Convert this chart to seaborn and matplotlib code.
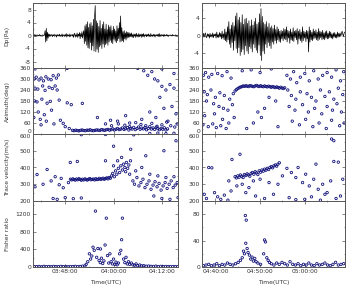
import numpy as np
import pandas as pd
import matplotlib
matplotlib.use("Agg")
import matplotlib.pyplot as plt
import seaborn as sns
from matplotlib.ticker import AutoMinorLocator

# ---------------- data (time in minutes after 00:00 UTC) ----------------
# Left event: 03:40 - 04:16 ; Right event: 04:37 - 05:09
L_T0, L_DT = 220.0, 0.15
R_T0, R_DT = 277.0, 0.15

wave_left = [
    0.1,-0.2,0.3,-0.1,0.2,-0.3,0.1,0.2,-0.2,0.1,-0.1,0.3,-0.2,0.1,0.0,-0.3,0.2,0.1,-0.1,0.2,
    1.5,-2.0,2.2,-1.6,1.0,-0.8,0.5,
    -0.3,0.4,-0.2,0.1,0.3,-0.4,0.2,-0.1,0.4,-0.3,0.1,0.2,-0.5,0.3,-0.1,0.2,-0.2,0.4,-0.3,0.1,-0.2,0.5,-0.4,0.2,
    0.1,-0.3,0.3,-0.2,0.6,-0.5,0.3,-0.1,0.2,-0.4,0.5,-0.3,0.1,0.2,-0.2,0.4,-0.6,0.3,0.7,-0.5,0.2,-0.3,0.8,-0.6,
    0.4,-0.2,0.9,-1.0,0.6,-0.4,1.2,-0.8,0.5,
    1.5,-2.5,3.0,-1.8,3.5,-3.0,4.2,-3.8,2.5,-4.0,3.6,-2.2,4.0,-4.5,3.0,-3.2,5.0,-4.8,6.0,9.2,-5.0,4.5,-4.2,3.8,
    -5.2,2.8,-3.5,4.6,-3.0,2.2,-4.0,3.4,-2.6,4.2,-3.6,2.0,-2.8,3.5,-2.4,1.8,-3.0,3.2,-2.0,2.6,-1.5,3.0,-2.2,1.6,
    -2.5,2.8,-1.2,2.0,-1.8,1.4,-2.2,3.0,-1.6,2.2,-1.0,4.0,-2.0,6.0,-1.8,2.4,-1.6,1.2,-2.0,1.5,-1.0,0.8,-1.4,1.2,
    -0.8,1.0,-0.6,0.9,-0.5,
    0.6,-0.4,0.8,-0.5,0.3,-0.7,0.5,-0.2,0.4,-0.6,0.7,-0.3,0.2,-0.5,0.6,-0.4,0.3,-0.2,0.5,-0.6,0.4,-0.3,0.6,-0.5,
    0.2,-0.1,0.4,-0.4,0.3,-0.2,0.5,-0.3,0.2,-0.4,0.6,-0.2,0.1,-0.3,0.4,-0.2,0.3,-0.5,0.2,-0.1,0.3,-0.2,0.4,-0.3,
    0.6,-0.4,0.2,-0.2,0.3,-0.1,0.2,-0.3,0.4,-0.2,0.1,-0.1,0.3,-0.2,0.2,-0.3,0.1,0.0,0.2,-0.1,0.1,-0.2,0.3,-0.1,
    0.1,0.0,-0.1,0.2,-0.1,0.1,0.0,0.1,
]
wave_right = [
    0.3,-0.2,0.5,-0.4,0.2,0.6,-0.3,-0.5,0.4,-0.2,0.3,-0.6,0.5,-0.3,0.2,-0.4,0.6,-0.5,0.3,-0.1,0.4,-0.6,0.8,-0.4,
    0.2,-0.5,0.7,-0.3,0.5,-0.8,1.0,-0.6,0.4,-1.0,1.5,-1.2,0.8,-1.5,2.0,-1.0,
    3.2,-2.0,1.5,-2.8,2.4,-1.6,3.0,-3.4,2.2,-1.2,4.5,-3.0,5.2,-4.0,3.6,-2.8,4.2,-4.6,3.0,-3.8,4.8,-3.2,2.6,-4.4,
    3.8,-2.4,4.0,-3.6,2.8,-4.2,3.4,-2.6,2.2,-3.0,3.6,-3.8,2.4,-2.0,3.2,-2.8,4.0,-3.4,2.6,-4.0,3.0,-2.2,5.0,-4.6,
    6.2,-5.8,4.4,-3.6,3.0,-4.2,2.6,-2.0,3.2,-2.8,2.0,-1.6,2.8,-2.4,1.8,-3.0,2.2,-1.5,1.6,-2.0,2.4,-1.2,1.4,-1.8,
    2.0,-1.0,1.5,-1.4,1.0,-1.6,1.2,-0.8,
    1.0,-1.2,1.6,-0.8,1.4,-1.0,2.0,-1.5,1.2,-0.6,1.0,-1.8,1.5,-1.0,0.8,-1.2,1.8,-1.4,1.0,-0.5,1.2,-1.0,1.6,-2.0,
    1.0,-0.8,1.4,-1.2,0.8,-1.6,2.0,-1.2,1.0,-0.6,0.8,-1.4,1.2,-0.8,1.0,-3.8,2.0,-1.5,1.2,-1.0,0.8,-1.2,1.5,-0.8,
    1.0,-0.6,1.3,-1.0,0.8,-1.2,1.6,-0.9,1.0,-0.5,0.8,-1.0,1.2,-0.8,0.6,-1.0,0.9,-0.6,1.1,-0.8,0.5,-0.7,1.0,-0.5,
    0.8,-0.6,0.4,-0.8,0.6,-0.4,0.7,-0.5,0.3,-0.6,0.8,-0.4,0.5,-0.3,0.6,-0.2,0.4,1.0,0.3,-0.2,0.5,0.8,
]

# Azimuth (deg), left event
az_left_t = [220.3,220.8,221.5,222.0,222.6,223.2,223.8,224.5,225.0,225.8,226.3,
             220.5,221.2,222.4,223.0,224.0,224.8,225.5,226.0,
             220.4,221.0,222.2,223.5,224.3,226.5,228.5,229.5,
             221.3,222.8,224.6,220.2,221.8,223.3,225.2,222.0,226.8,228.0,229.0,227.5,
             220.5,228.5,232.25,239.25,
             229.8,230.2,230.6,231.0,231.4,231.8,232.2,232.6,233.0,233.4,233.8,234.2,234.6,235.0,235.4,235.8,
             236.2,236.6,237.0,237.4,237.8,238.2,238.6,239.0,239.4,239.8,240.2,240.6,241.0,241.4,241.8,242.2,
             242.6,243.0,243.4,243.8,244.2,244.6,245.0,245.4,245.8,246.2,246.6,247.0,247.4,247.8,248.2,248.6,
             249.0,249.4,249.8,250.2,250.6,251.0,251.4,251.8,252.2,252.6,253.0,253.4,
             239.5,241.2,242.8,244.0,245.5,246.8,248.0,249.5,250.8,252.0,253.2,254.2,255.2,255.8,
             248.5,249.5,250.2,251.0,252.0,253.0,254.0,255.0,249.0,251.5,252.5,254.5,255.5,250.5,253.5,247.0,
             244.0,243.0,241.0,238.0,236.0,246.0,247.5,252.0,255.0,249.0,251.0,253.0,255.0]
az_left_v = [300,310,295,305,290,312,300,296,318,305,322,
             250,245,262,238,255,248,262,240,
             180,175,190,168,178,185,170,160,
             120,105,130,90,80,70,55,50,75,40,30,58,
             355,358,167,75,
             20,18,21,19,17,20,22,19,18,21,20,23,19,18,20,22,
             21,19,24,22,20,23,25,21,24,28,22,26,30,24,27,33,
             25,29,35,22,31,27,36,24,30,38,26,32,28,35,23,30,
             40,27,33,25,37,29,24,31,26,34,22,28,
             45,55,48,40,62,52,45,58,42,50,65,45,38,55,
             320,340,300,290,260,240,270,250,120,200,140,150,110,90,70,80,
             60,100,70,55,90,358,345,355,330,3,5,2,4]

# Azimuth (deg), right event
az_right_t = [284.4,284.7,285.0,285.3,285.6,285.9,286.2,286.5,286.8,287.1,287.4,287.7,288.0,288.3,288.6,
              288.9,289.2,289.5,289.8,290.1,290.4,290.7,291.0,291.3,291.6,291.9,292.2,292.5,292.8,293.1,
              293.4,293.7,294.0,294.3,294.6,294.9,295.2,295.5,
              277.3,277.8,278.5,279.2,280.5,281.5,282.6,283.5,
              277.5,278.2,279.0,280.0,281.0,282.0,283.2,284.0,
              278.0,279.6,280.8,281.8,282.8,283.8,
              277.2,278.4,279.4,280.2,281.2,282.4,283.0,284.2,277.6,279.8,281.6,
              286.0,288.0,290.0,292.5,289.5,290.3,288.5,291.0,293.5,292.0,287.0,294.0,
              296.0,296.8,297.5,298.2,299.0,300.0,301.0,302.0,303.0,304.0,305.0,306.0,307.0,308.0,308.7,
              296.2,297.0,298.0,299.0,300.5,301.5,302.5,303.5,304.5,305.5,306.5,307.5,308.5,
              296.5,297.8,299.5,300.8,302.2,303.8,305.0,306.2,307.2,308.2,
              297.2,298.8,300.2,301.8,303.2,304.8,306.0,307.8,308.8]
az_right_v = [235,242,248,252,256,258,262,260,263,261,259,264,262,260,258,
              262,265,261,259,263,260,258,262,259,257,261,258,255,259,256,
              253,257,254,250,255,251,248,252,
              320,335,310,325,330,318,340,305,
              230,215,240,200,225,210,190,220,
              180,165,150,140,130,160,
              50,40,55,35,45,30,60,90,100,110,80,
              345,350,335,355,120,90,60,140,180,200,30,40,
              320,300,340,280,310,330,290,345,300,320,335,310,350,290,340,
              240,210,190,230,220,200,180,240,205,230,190,250,215,
              150,130,160,120,140,110,150,130,165,120,
              70,50,80,40,60,30,75,45,60]

# Trace velocity (m/s), left event
vel_left_t = [229.3,229.6,229.9,230.2,230.5,230.8,231.1,231.4,231.7,232.0,232.3,232.6,232.9,233.2,233.5,233.8,
              234.1,234.4,234.7,235.0,235.3,235.6,235.9,236.2,236.5,236.8,237.1,237.4,237.7,238.0,238.3,238.6,
              238.9,239.2,
              239.5,239.8,240.2,240.5,240.8,241.2,241.5,241.8,242.2,242.5,242.8,243.2,243.5,243.8,244.2,240.0,
              241.0,242.0,243.0,244.0,
              244.8,245.2,245.8,246.3,246.8,247.3,247.8,248.3,248.8,249.3,249.8,250.3,250.8,251.3,251.8,252.3,
              252.8,253.3,253.8,254.3,254.8,255.3,255.8,245.5,247.0,249.0,251.0,253.0,255.0,240.0,244.25,248.0,
              252.5,255.5,238.0,250.0,252.0,254.0,256.0,
              221.0,223.5,225.5,226.5,227.5,229.25,231.0,222.5,224.5,227.0,225.0,226.0,228.0,230.0,232.0,220.5,
              228.8,232.0,238.0,245.0]
vel_left_v = [330,326,332,328,325,331,327,333,329,324,330,326,332,328,325,330,
              334,327,329,331,326,333,328,330,335,329,332,336,330,334,338,332,
              340,336,
              350,365,345,380,360,395,370,410,385,420,400,430,395,415,440,410,
              440,460,375,360,
              320,300,340,290,310,330,280,300,320,270,295,315,285,305,265,290,
              310,275,300,320,280,295,310,380,400,360,350,340,345,527,509,470,
              500,560,440,230,215,210,220,
              358,388,345,297,279,430,436,300,320,335,215,210,220,214,218,285,
              310,596,597,595]

# Trace velocity (m/s), right event
vel_right_t = [284.4,284.7,285.0,285.3,285.6,285.9,286.2,286.5,286.8,287.1,287.4,287.7,288.0,288.3,288.6,
               288.9,289.2,289.5,289.8,290.1,290.4,290.7,291.0,291.3,291.6,291.9,292.2,292.5,292.8,293.1,
               293.4,293.7,294.0,294.3,
               277.5,278.0,278.5,279.2,279.8,280.5,281.2,282.0,282.8,283.5,283.7,285.5,283.0,284.8,286.0,
               287.5,288.5,290.0,292.0,294.0,295.0,296.0,297.0,298.0,298.5,299.5,300.2,301.0,302.0,303.0,
               304.0,305.0,305.8,306.5,307.5,308.5,306.0,306.5,302.5,300.0,301.5,303.5,304.5,307.0,308.0,
               289.0,291.0,293.0,296.5,298.0,286.8]
vel_right_v = [345,338,350,342,355,348,340,358,352,362,356,348,365,370,360,
               375,368,358,380,372,385,378,390,384,395,388,400,405,398,410,
               415,408,420,428,
               240,215,400,398,250,225,210,235,205,260,448,479,320,290,300,
               280,320,330,310,300,350,395,370,340,400,310,360,290,330,270,
               300,250,320,436,432,330,570,560,420,210,225,205,240,215,230,
               230,215,240,220,208,250]

# Fisher ratio, left event
fr_left_t = [220.3,220.9,221.5,222.1,222.7,223.3,223.9,224.5,225.1,225.7,226.3,226.9,227.5,228.1,228.7,229.3,
             229.9,230.5,231.1,231.7,232.3,232.9,247.5,248.1,248.7,249.3,249.9,250.5,251.1,251.7,252.3,252.9,
             253.5,254.1,254.7,255.3,255.9,
             233.2,233.6,234.0,234.3,234.6,234.9,235.2,235.5,235.8,236.1,236.4,236.7,237.0,237.3,237.6,237.9,
             238.2,238.5,238.8,239.1,239.4,239.7,240.0,240.3,240.6,240.9,241.2,241.5,241.8,242.0,242.2,242.5,
             242.8,243.1,243.4,243.7,244.0,244.4,244.8,245.2,245.6,246.0,246.5,247.0,236.75]
fr_left_v = [10,8,12,6,15,9,11,7,13,10,8,14,9,12,6,11,
             10,15,8,12,20,25,30,18,22,15,12,20,10,14,8,12,
             10,9,11,8,10,
             60,120,300,180,250,450,380,1270,220,420,150,100,200,80,140,500,
             1110,260,90,300,120,70,180,60,110,50,90,300,380,620,1110,180,
             100,220,70,120,60,90,50,40,70,30,45,25,410]

# Fisher ratio, right event
fr_right_t = [277.3,277.9,278.5,279.1,279.7,280.3,280.9,281.5,282.1,282.7,283.3,283.9,284.5,285.1,289.5,290.1,
              292.5,293.1,293.7,294.3,294.9,295.5,296.1,296.7,297.3,297.9,298.5,299.1,299.7,300.3,300.9,301.5,
              302.1,302.7,303.3,303.9,304.5,305.1,305.7,306.3,306.9,307.5,308.1,308.7,
              285.6,286.0,286.3,286.5,286.7,286.9,286.8,287.1,287.3,287.6,287.9,288.2,288.5,288.8,289.1,290.8,
              291.0,291.2,291.5,291.8,292.1]
fr_right_v = [2,3,4,2,3,5,2,4,3,6,4,3,5,7,6,4,
              5,3,6,4,7,5,3,8,4,3,5,2,4,3,6,3,
              2,5,3,4,6,3,2,4,7,3,4,5,
              10,14,24,20,78,71,36,28,22,18,12,15,9,13,8,20,
              41,38,14,10,7]

# Axes settings / labels
ylabels = ["Dp(Pa)", "Azimuth(deg)", "Trace velocity(m/s)", "Fisher ratio"]
xlim_left, xlim_right = (220, 256), (277, 309)
xticks_left, xticklabels_left = [228, 240, 252], ["03:48:00", "04:00:00", "04:12:00"]
xticks_right, xticklabels_right = [280, 290, 300], ["04:40:00", "04:50:00", "05:00:00"]
ylims_left = [(-10, 10), (0, 360), (200, 600), (0, 1500)]
ylims_right = [(-7.5, 7.5), (0, 360), (200, 600), (0, 100)]
yticks_left = [[-8, -4, 0, 4, 8], [0, 60, 120, 180, 240, 300, 360], [200, 300, 400, 500, 600], [0, 400, 800, 1200]]
yticks_right = [[-4, 0, 4], [0, 60, 120, 180, 240, 300, 360], [200, 300, 400, 500, 600], [0, 40, 80]]

# ---------------- plotting ----------------
sns.set_theme(style="ticks")
plt.rcParams.update({
    "font.family": ["DejaVu Sans"],
    "xtick.direction": "in", "ytick.direction": "in",
    "xtick.top": True, "ytick.right": True,
    "xtick.major.size": 2, "ytick.major.size": 2,
    "xtick.minor.size": 1, "ytick.minor.size": 1,
    "xtick.major.width": 0.5, "ytick.major.width": 0.5,
    "xtick.minor.width": 0.4, "ytick.minor.width": 0.4,
    "axes.linewidth": 0.7, "axes.edgecolor": "#555555",
    "xtick.color": "#555555", "ytick.color": "#555555",
    "xtick.labelcolor": "#333333", "ytick.labelcolor": "#333333",
})

W, H = 349, 292
fig = plt.figure(figsize=(W / 100, H / 100), dpi=100)
col_x = [(33, 145), (202, 143)]
row_y = [(3, 68), (68, 134), (134, 201), (201, 267)]
NAVY = "#10107a"
FS = 4.3

def make_ax(c, r):
    x0, w = col_x[c]
    y0, y1 = row_y[r]
    return fig.add_axes([x0 / W, 1 - y1 / H, w / W, (y1 - y0) / H])

wave_df = [
    pd.DataFrame({"t": L_T0 + L_DT * np.arange(len(wave_left)), "v": wave_left}),
    pd.DataFrame({"t": R_T0 + R_DT * np.arange(len(wave_right)), "v": wave_right}),
]
scat = [
    [(az_left_t, az_left_v), (vel_left_t, vel_left_v), (fr_left_t, fr_left_v)],
    [(az_right_t, az_right_v), (vel_right_t, vel_right_v), (fr_right_t, fr_right_v)],
]

for c in range(2):
    xl = xlim_left if c == 0 else xlim_right
    ylims = ylims_left if c == 0 else ylims_right
    yticks = yticks_left if c == 0 else yticks_right
    for r in range(4):
        ax = make_ax(c, r)
        if r == 0:
            sns.lineplot(data=wave_df[c], x="t", y="v", ax=ax, color="black", lw=0.5)
        else:
            tt, vv = scat[c][r - 1]
            df = pd.DataFrame({"t": tt, "v": vv})
            sns.scatterplot(data=df, x="t", y="v", ax=ax, s=3, marker="o",
                            facecolor="none", edgecolor=NAVY, linewidth=0.6, clip_on=True)
        ax.set_xlim(*xl)
        ax.set_ylim(*ylims[r])
        ax.set_yticks(yticks[r])
        ax.set_yticklabels([str(v) for v in yticks[r]], fontsize=FS)
        labs = ax.get_yticklabels()
        if r in (1, 2):
            # keep labels at shared panel borders from colliding
            if r == 1:
                labs[0].set_va("bottom")
            if r == 2:
                labs[-1].set_va("top")
        ax.yaxis.set_minor_locator(AutoMinorLocator(2))
        ax.xaxis.set_minor_locator(AutoMinorLocator(2))
        ax.set_xticks(xticks_left if c == 0 else xticks_right)
        if r == 3:
            ax.set_xticklabels(xticklabels_left if c == 0 else xticklabels_right, fontsize=FS)
            ax.set_xlabel("Time(UTC)", fontsize=FS, color="#333333", labelpad=4)
        else:
            ax.set_xticklabels([])
            ax.set_xlabel("")
        if c == 0:
            ax.set_ylabel(ylabels[r], fontsize=FS, color="#333333")
            ax.yaxis.set_label_coords(-0.16, 0.5)
        else:
            ax.set_ylabel("")
        ax.tick_params(axis="both", which="both", pad=1.5)

fig.savefig("out.png", dpi=100, facecolor="white")
